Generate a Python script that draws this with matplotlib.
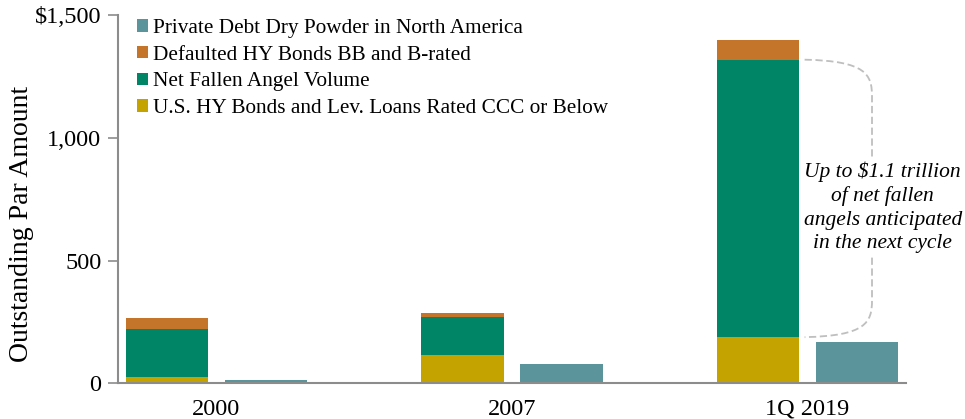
import matplotlib
matplotlib.use("Agg")
import matplotlib.pyplot as plt
import numpy as np
from matplotlib.path import Path
from matplotlib.patches import PathPatch

# values, $bn
periods = ['2000', '2007', '1Q 2019']
ccc_loans = [24, 115, 188]
fallen_angels = [199, 156, 1130]
defaulted_hy = [42, 14, 79]
dry_powder = [13, 79, 170]

c_dry = '#5B949B'
c_def = '#C5752A'
c_fall = '#008566'
c_ccc = '#C4A300'

plt.rcParams['font.family'] = ['Liberation Serif', 'DejaVu Serif']

fig = plt.figure(figsize=(9.65, 4.19), dpi=100)
ax = fig.add_axes([118 / 965, (419 - 383.3) / 419, (906 - 118) / 965, 368.3 / 419])

x = np.arange(len(periods))
w = 0.2775
off = 0.1675

ax.bar(x - off, ccc_loans, w, color=c_ccc, label='U.S. HY Bonds and Lev. Loans Rated CCC or Below')
ax.bar(x - off, fallen_angels, w, bottom=ccc_loans, color=c_fall, label='Net Fallen Angel Volume')
base2 = np.array(ccc_loans) + np.array(fallen_angels)
ax.bar(x - off, defaulted_hy, w, bottom=base2, color=c_def, label='Defaulted HY Bonds BB and B-rated')
ax.bar(x + off, dry_powder, w, color=c_dry, label='Private Debt Dry Powder in North America')

ax.set_xlim(-0.333, 2.333)
ax.set_ylim(0, 1500)
ax.set_yticks([0, 500, 1000, 1500])
ax.set_yticklabels(['0', '500', '1,000', '$1,500'])
ax.set_xticks(x)
ax.set_xticklabels(periods)
ax.tick_params(axis='y', direction='out', length=7, width=1.2, color='#8C8C8C', labelsize=17.5, pad=5)
ax.tick_params(axis='x', length=0, labelsize=17.5, pad=11)
for s in ['top', 'right']:
    ax.spines[s].set_visible(False)
for s in ['left', 'bottom']:
    ax.spines[s].set_color('#8C8C8C')
    ax.spines[s].set_linewidth(1.5)
ax.set_ylabel('Outstanding Par Amount', fontsize=20)
ax.yaxis.set_label_coords(-0.107, 0.434)

h, l = ax.get_legend_handles_labels()
order = [3, 2, 1, 0]
ax.legend([h[i] for i in order], [l[i] for i in order], loc='upper left',
          bbox_to_anchor=(0.024, 0.989), frameon=False, fontsize=15.3,
          handlelength=0.52, handleheight=0.5, handletextpad=0.24,
          labelspacing=0.36, borderpad=0, borderaxespad=0)

# dashed bracket next to the 2019 fallen angel segment
top = base2[2]
bot = ccc_loans[2]
x0, x1 = 1.99, 2.218
verts = [(x0, top), (x1 - 0.02, top - 5), (x1, top - 60), (x1, top - 150),
         (x1, bot + 150),
         (x1, bot + 60), (x1 - 0.02, bot + 5), (x0, bot)]
codes = [Path.MOVETO, Path.CURVE4, Path.CURVE4, Path.CURVE4,
         Path.LINETO, Path.CURVE4, Path.CURVE4, Path.CURVE4]
ax.add_patch(PathPatch(Path(verts, codes), fill=False, ec='#BFBFBF', lw=1.3,
                       ls=(0, (4, 2)), clip_on=False))
ax.text(2.254, 717, 'Up to $1.1 trillion\nof net fallen\nangels anticipated\nin the next cycle',
        ha='center', va='center', style='italic', fontsize=15.5, linespacing=1.32,
        bbox=dict(fc='white', ec='none', pad=1))

fig.savefig('out.png', dpi=100)
